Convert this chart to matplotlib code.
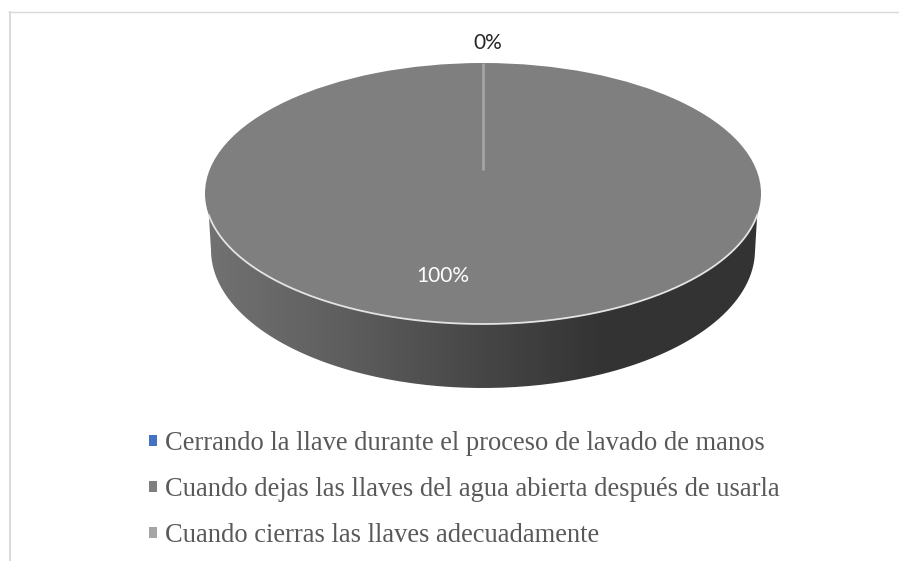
import numpy as np
import matplotlib
matplotlib.use("Agg")
import matplotlib.pyplot as plt
from matplotlib.colors import LinearSegmentedColormap
from matplotlib.lines import Line2D
from matplotlib.patches import PathPatch, Rectangle
from matplotlib.path import Path

labels = [
    "Cerrando la llave durante el proceso de lavado de manos",
    "Cuando dejas las llaves del agua abierta después de usarla",
    "Cuando cierras las llaves adecuadamente",
]
shares = [0, 100, 0]
colors = ["#4472C4", "#7F7F7F", "#A5A5A5"]

W, H = 899, 561
# pie top ellipse in pixels
cx, cy, rx, ry = 483, 193.5, 278, 130.5
# bottom rim of the side wall, in pixels
cy2, rx2, ry2 = 250, 272, 138


def to_data(px, py):
    return (np.asarray(px) - cx) / rx, (cy - np.asarray(py)) / ry


fig = plt.figure(figsize=(W / 100, H / 100), dpi=100, facecolor="white")
ax = fig.add_axes([0, 0, 1, 1])

wedges, _ = ax.pie(shares, colors=colors, startangle=90, counterclock=False,
                   wedgeprops={"linewidth": 0, "zorder": 3})
ax.set_aspect("auto")

# side wall with horizontal gradient
t = np.linspace(np.pi + 0.166, 2 * np.pi - 0.166, 200)
top_x, top_y = np.cos(t), np.sin(t)
t2 = np.linspace(2 * np.pi, np.pi, 200)
bot_x = np.cos(t2) * rx2 / rx
bot_y = (cy - cy2) / ry + np.sin(t2) * ry2 / ry
wall = Path(np.column_stack([np.r_[top_x, bot_x], np.r_[top_y, bot_y]]))

stops = [(0.0, "#727272"), (0.25, "#5E5E5E"), (0.5, "#464646"), (0.72, "#333333"), (1.0, "#333333")]
cmap = LinearSegmentedColormap.from_list("wall", stops)
x0, y0 = to_data(205, 400)
x1, y1 = to_data(761, 205)
img = ax.imshow(np.linspace(0, 1, 256).reshape(1, -1), cmap=cmap, aspect="auto",
                extent=[x0, x1, y0, y1], zorder=1)
clip = PathPatch(wall, transform=ax.transData, facecolor="none", edgecolor="none")
ax.add_patch(clip)
img.set_clip_path(clip)

# pale rim along the front of the top
ax.plot(top_x, top_y, color="#E4E4E4", lw=1.3, zorder=4, solid_capstyle="round")

# the 0% slice only shows as a thin line
angle = np.deg2rad(90 - 360 * shares[0] / sum(shares))
inner = (cy - 170) / ry
ax.plot([np.cos(angle), inner * np.cos(angle)], [np.sin(angle), inner * np.sin(angle)],
        color=colors[2], lw=2, zorder=5, solid_capstyle="butt")

lab_font = ["Lato", "DejaVu Sans"]
lx, ly = to_data(488, 43)
ax.text(lx, ly, f"{shares[0]}%", ha="center", va="center", fontsize=15,
        color="#262626", family=lab_font)
lx, ly = to_data(443, 276)
ax.text(lx, ly, f"{shares[1]}%", ha="center", va="center", fontsize=15,
        color="white", family=lab_font, zorder=6)

ax.set_xlim(to_data(0, 0)[0], to_data(W, 0)[0])
ax.set_ylim(to_data(0, H)[1], to_data(0, 0)[1])
ax.axis("off")

leg = ax.legend(wedges, labels, loc="upper left", bbox_to_anchor=(149 / W, 1 - 431 / H),
                frameon=False, prop={"family": "Liberation Serif", "size": 19.1},
                labelcolor="#595959", handlelength=0.30, handleheight=0.30,
                handletextpad=0.31, labelspacing=0.79, borderpad=0, borderaxespad=0)

# chart frame, only top and left are in the crop
fig.add_artist(Rectangle((9 / W, 0), 2 / W, 1 - 11 / H, transform=fig.transFigure,
                         facecolor="#D9D9D9", edgecolor="none"))
fig.add_artist(Line2D([9 / W, 1], [1 - 11.5 / H] * 2, transform=fig.transFigure,
                      color="#D9D9D9", lw=1.0))

fig.savefig("out.png", dpi=100, facecolor="white")
